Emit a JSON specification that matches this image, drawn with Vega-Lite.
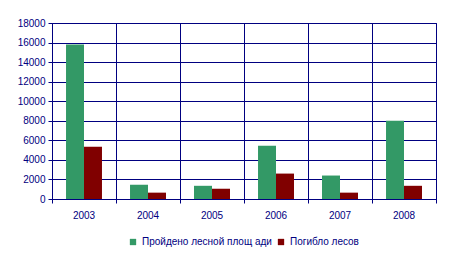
{
  "$schema": "https://vega.github.io/schema/vega-lite/v6.json",
  "width": 384,
  "height": 176,
  "autosize": "none",
  "padding": {"left": 52, "top": 23, "right": 13, "bottom": 60},
  "background": "white",
  "config": {
    "view": {"stroke": "#000080", "strokeWidth": 1},
    "font": "Liberation Sans",
    "axis": {"labelFont": "Liberation Sans", "labelColor": "#000080", "labelFontSize": 10, "domainColor": "#000080", "tickColor": "#000080", "gridColor": "#000080", "gridOpacity": 1, "tickSize": 4, "domainWidth": 1, "gridWidth": 1}
  },
  "data": {
    "values": [
      {"year": "2003", "series": "Пройдено лесной площ ади", "value": 15800},
      {"year": "2003", "series": "Погибло лесов", "value": 5350},
      {"year": "2004", "series": "Пройдено лесной площ ади", "value": 1450},
      {"year": "2004", "series": "Погибло лесов", "value": 650},
      {"year": "2005", "series": "Пройдено лесной площ ади", "value": 1350},
      {"year": "2005", "series": "Погибло лесов", "value": 1050},
      {"year": "2006", "series": "Пройдено лесной площ ади", "value": 5450},
      {"year": "2006", "series": "Погибло лесов", "value": 2600},
      {"year": "2007", "series": "Пройдено лесной площ ади", "value": 2400},
      {"year": "2007", "series": "Погибло лесов", "value": 650},
      {"year": "2008", "series": "Пройдено лесной площ ади", "value": 8000},
      {"year": "2008", "series": "Погибло лесов", "value": 1350}
    ]
  },
  "mark": {"type": "bar"},
  "encoding": {
    "x": {
      "field": "year", "type": "nominal",
      "scale": {"paddingInner": 0, "paddingOuter": 0},
      "axis": {"title": null, "labelAngle": 0, "grid": true, "bandPosition": 1, "tickExtra": true, "labelPadding": 7}
    },
    "xOffset": {
      "field": "series", "type": "nominal",
      "sort": ["Пройдено лесной площ ади", "Погибло лесов"],
      "scale": {"paddingInner": 0, "paddingOuter": 0.78}
    },
    "y": {
      "field": "value", "type": "quantitative",
      "scale": {"domain": [0, 18000]},
      "axis": {"title": null, "values": [0,2000,4000,6000,8000,10000,12000,14000,16000,18000], "format": "d", "labelOverlap": false, "labelFlush": false, "grid": true, "labelPadding": 3}
    },
    "color": {
      "field": "series", "type": "nominal",
      "sort": ["Пройдено лесной площ ади", "Погибло лесов"],
      "scale": {"domain": ["Пройдено лесной площ ади", "Погибло лесов"], "range": ["#339966", "#800000"]},
      "legend": {
        "title": null, "orient": "none", "direction": "horizontal",
        "legendX": 76, "legendY": 214,
        "symbolType": "square", "symbolSize": 40, "symbolStrokeWidth": 0, "symbolOpacity": 1,
        "labelFont": "Liberation Sans", "labelFontSize": 10, "labelColor": "#000080",
        "labelOffset": 4, "columnPadding": 4
      }
    }
  }
}
